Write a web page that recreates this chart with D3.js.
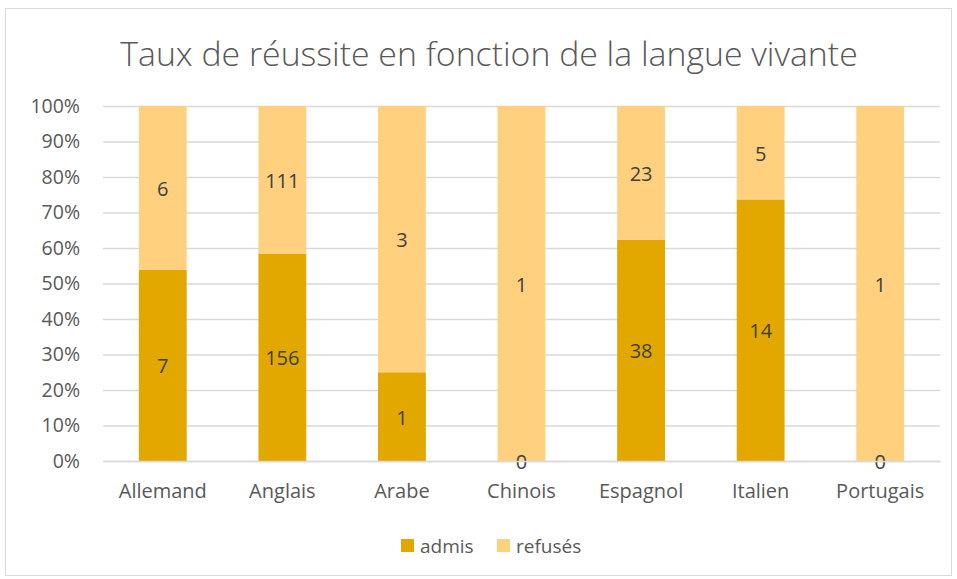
<!DOCTYPE html>
<html><head><meta charset="utf-8">
<script src="https://cdn.jsdelivr.net/npm/d3@7"></script>
<style>body{margin:0;background:#fff}svg{display:block}text{font-family:"Open Sans",sans-serif}</style>
</head><body>
<script>
const categories = ["Allemand","Anglais","Arabe","Chinois","Espagnol","Italien","Portugais"];
const admis = [7,156,1,0,38,14,0];
const refuses = [6,111,3,1,23,5,1];
const seriesNames = ["admis","refusés"];
const yTicks = [0,0.1,0.2,0.3,0.4,0.5,0.6,0.7,0.8,0.9,1];
const colors = ["#E2A800","#FFD17F"];

const W=957,H=579;
const svg=d3.select("body").append("svg").attr("width",W).attr("height",H);
svg.append("rect").attr("x",5.5).attr("y",8.5).attr("width",946).attr("height",567).attr("fill","#fff").attr("stroke","#d9d9d9");

const m={l:103,r:940,t:106,b:461};
const x=d3.scaleBand().domain(categories).range([m.l,m.r]).paddingInner(0.6).paddingOuter(0.3);
const y=d3.scaleLinear().domain([0,1]).range([m.b,m.t]);

svg.append("text").attr("x",489).attr("y",66).attr("text-anchor","middle").attr("font-size",33.8).attr("font-weight",300).attr("fill","#595959").text("Taux de réussite en fonction de la langue vivante");

const ya=svg.append("g").attr("transform",`translate(${m.l},0)`).call(d3.axisLeft(y).tickValues(yTicks).tickFormat(d3.format(".0%")).tickSize(-(m.r-m.l)).tickPadding(23));
ya.select(".domain").remove();
ya.selectAll(".tick line").attr("stroke","#d9d9d9").attr("stroke-width",1.3);
ya.selectAll(".tick text").attr("font-size",19.5).attr("fill","#595959");

const data=categories.map((c,i)=>({c,a:admis[i],r:refuses[i],t:admis[i]+refuses[i]}));
const g=svg.append("g");
data.forEach(d=>{
  const pa=d.a/d.t, pr=d.r/d.t;
  const bx=x(d.c), bw=x.bandwidth();
  g.append("rect").attr("x",bx).attr("width",bw).attr("y",y(pa)).attr("height",y(0)-y(pa)).attr("fill",colors[0]);
  g.append("rect").attr("x",bx).attr("width",bw).attr("y",y(1)).attr("height",y(pa)-y(1)).attr("fill",colors[1]);
  const cx=bx+bw/2;
  g.append("text").attr("x",cx).attr("y",y(pa/2)+1).attr("dy","0.35em").attr("text-anchor","middle").attr("font-size",20).attr("fill","#404040").text(d.a);
  g.append("text").attr("x",cx).attr("y",y(pa+pr/2)+1).attr("dy","0.35em").attr("text-anchor","middle").attr("font-size",20).attr("fill","#404040").text(d.r);
});

const xa=svg.append("g").attr("transform",`translate(0,${m.b})`).call(d3.axisBottom(x).tickSize(0).tickPadding(23));
xa.select(".domain").attr("stroke","#d9d9d9").attr("stroke-width",1.3);
xa.selectAll(".tick text").attr("font-size",20).attr("fill","#595959");

const leg=svg.append("g");
const lx=[401,497];
seriesNames.forEach((s,i)=>{
  leg.append("rect").attr("x",lx[i]).attr("y",539).attr("width",13).attr("height",13).attr("fill",colors[i]);
  leg.append("text").attr("x",lx[i]+19).attr("y",546).attr("dy","0.35em").attr("font-size",19).attr("fill","#595959").text(s);
});
</script>
</body></html>
